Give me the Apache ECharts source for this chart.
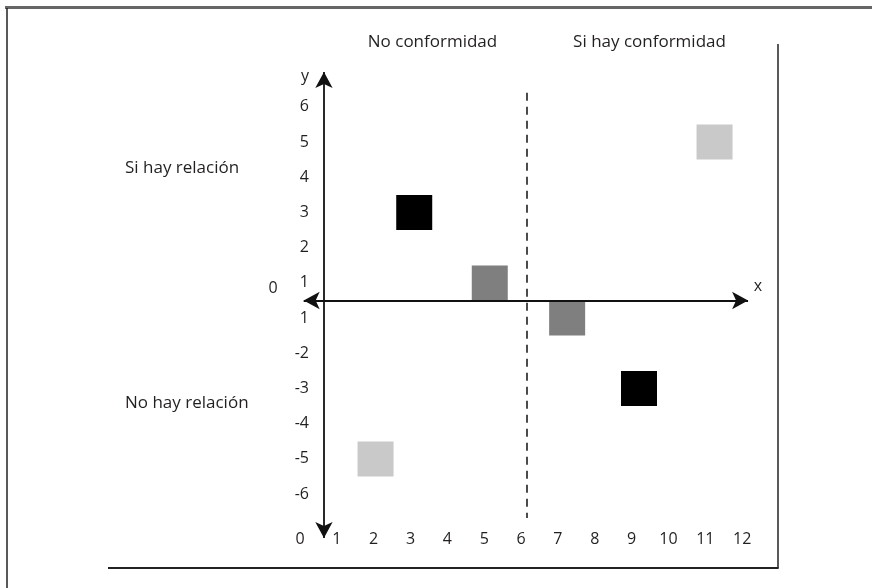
<!DOCTYPE html>
<html><head><meta charset="utf-8">
<script src="https://cdn.jsdelivr.net/npm/echarts@6/dist/echarts.min.js"></script>
<style>html,body{margin:0;padding:0;background:#fff}#c{width:872px;height:588px}</style>
</head><body><div id="c"></div>
<script>
// ---- data ----
const xTicks = [0,1,2,3,4,5,6,7,8,9,10,11,12];
const yCategories = ['-6','-5','-4','-3','-2','-1','1','2','3','4','5','6'];
const yTickLabels = ['-6','-5','-4','-3','-2','1','1','2','3','4','5','6'];
const blackSquares = [[3.1, 3], [9.2, -3]];
const graySquares = [[5.15, 1], [7.25, -1]];
const lightSquares = [[2.05, -5], [11.25, 5]];
const columnLabels = ['No conformidad', 'Si hay conformidad'];
const rowLabels = ['Si hay relación', 'No hay relación'];
const dividerX = 6.16;

// ---- chart ----
const FONT = '"Open Sans", "DejaVu Sans", sans-serif';
const TXT = '#231f20';
const chart = echarts.init(document.getElementById('c'), null, {renderer: 'canvas'});

function sq(data, color) {
  return {
    type: 'scatter', xAxisIndex: 0, yAxisIndex: 1, symbol: 'rect', symbolSize: [36, 35],
    itemStyle: {color: color, opacity: 1}, silent: true,
    data: data.map(d => [d[0], String(d[1])])
  };
}

const option = {
  animation: false,
  backgroundColor: '#fff',
  grid: {left: 300, right: 111.4, top: 54.1, bottom: 41.1, containLabel: false},
  xAxis: [{
    type: 'value', min: 0, max: 12.5, interval: 1,
    axisLine: {show: false}, axisTick: {show: false}, splitLine: {show: false},
    axisLabel: {
      margin: -7, verticalAlign: 'middle', color: TXT, fontFamily: FONT, fontSize: 16,
      formatter: v => (xTicks.indexOf(v) >= 0 ? String(v) : '')
    }
  }],
  yAxis: [{
    type: 'value', min: -7, max: 7, show: false
  }, {
    type: 'category', position: 'left', offset: -24,
    data: ['lo'].concat(yCategories, ['hi']),
    axisLine: {show: false}, axisTick: {show: false}, splitLine: {show: false},
    axisLabel: {
      margin: 15, color: TXT, fontFamily: FONT, fontSize: 16, interval: 0,
      formatter: (val, idx) => (idx >= 1 && idx <= yTickLabels.length ? yTickLabels[idx - 1] : '')
    }
  }],
  series: [
    sq(lightSquares, '#c9c9c9'),
    sq(graySquares, '#7f7f7f'),
    sq(blackSquares, '#000000'),
    {
      type: 'line', xAxisIndex: 0, yAxisIndex: 0, data: [], silent: true,
      markLine: {
        silent: true, symbol: ['arrow', 'arrow'], symbolSize: [13, 16],
        label: {show: false},
        lineStyle: {color: '#111', width: 1.8, type: 'solid'},
        data: [
          [{coord: [0.1, 0]}, {coord: [12.16, 0]}],
          [{coord: [0.65, 6.49]}, {coord: [0.65, -6.75]}]
        ]
      }
    },
    {
      type: 'line', xAxisIndex: 0, yAxisIndex: 0, data: [], silent: true,
      markLine: {
        silent: true, symbol: ['none', 'none'], label: {show: false},
        lineStyle: {color: '#111', width: 1.5, type: [8, 6]},
        data: [[{coord: [dividerX, 5.9]}, {coord: [dividerX, -6.18]}]]
      }
    }
  ],
  graphic: [
    {type: 'rect', silent: true, shape: {x: 5, y: 6, width: 867, height: 3}, style: {fill: '#666'}},
    {type: 'line', silent: true, shape: {x1: 7, y1: 8, x2: 7, y2: 588}, style: {stroke: '#222', lineWidth: 1.5}},
    {type: 'line', silent: true, shape: {x1: 778, y1: 44, x2: 778, y2: 568.5}, style: {stroke: '#222', lineWidth: 1.5}},
    {type: 'line', silent: true, shape: {x1: 108, y1: 568, x2: 778.5, y2: 568}, style: {stroke: '#222', lineWidth: 2}},
    {type: 'text', silent: true, x: 432.5, y: 42, style: {text: columnLabels[0], fill: TXT, font: '17px ' + FONT, textAlign: 'center', textVerticalAlign: 'middle'}},
    {type: 'text', silent: true, x: 649.5, y: 42, style: {text: columnLabels[1], fill: TXT, font: '17px ' + FONT, textAlign: 'center', textVerticalAlign: 'middle'}},
    {type: 'text', silent: true, x: 125, y: 168, style: {text: rowLabels[0], fill: TXT, font: '17px ' + FONT, textAlign: 'left', textVerticalAlign: 'middle'}},
    {type: 'text', silent: true, x: 125, y: 403, style: {text: rowLabels[1], fill: TXT, font: '17px ' + FONT, textAlign: 'left', textVerticalAlign: 'middle'}},
    {type: 'text', silent: true, x: 305, y: 76, style: {text: 'y', fill: TXT, font: '16px ' + FONT, textAlign: 'center', textVerticalAlign: 'middle'}},
    {type: 'text', silent: true, x: 758, y: 286, style: {text: 'x', fill: TXT, font: '16px ' + FONT, textAlign: 'center', textVerticalAlign: 'middle'}},
    {type: 'text', silent: true, x: 273, y: 288, style: {text: '0', fill: TXT, font: '16px ' + FONT, textAlign: 'center', textVerticalAlign: 'middle'}}
  ]
};
chart.setOption(option);
</script>
</body></html>
